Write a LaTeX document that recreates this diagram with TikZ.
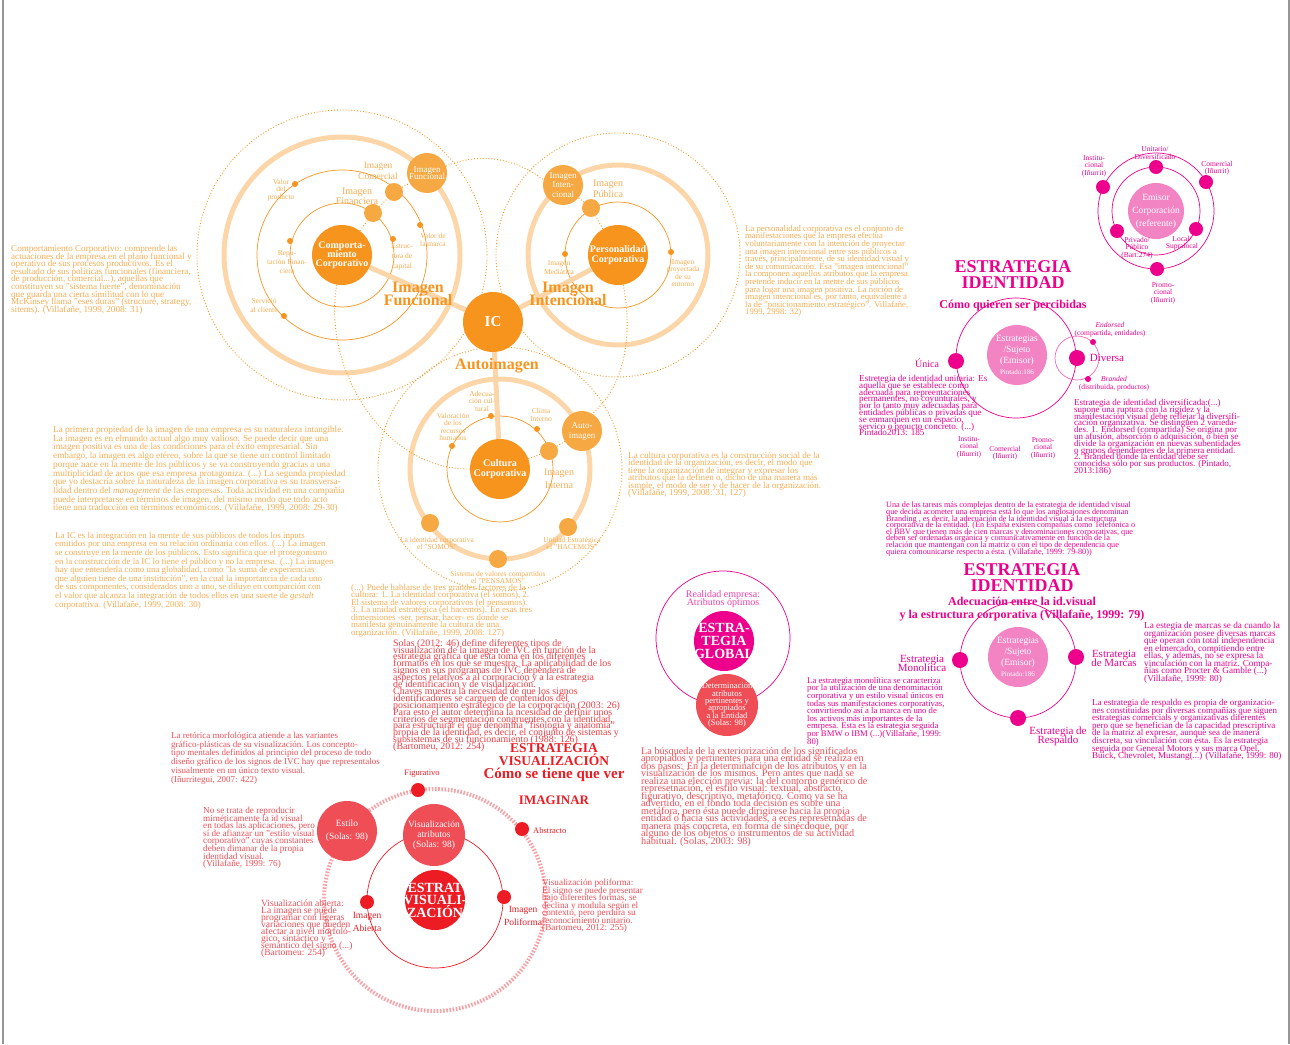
\documentclass[tikz,border=0pt]{standalone}
\usepackage{fontspec}
\setmainfont{Liberation Serif}
\usetikzlibrary{positioning,backgrounds}
\definecolor{icorange}{RGB}{247,148,29}
\definecolor{icpale}{RGB}{252,214,168}
\definecolor{icbubble}{RGB}{246,168,66}
\definecolor{ictext}{RGB}{248,172,82}
\definecolor{idmagenta}{RGB}{236,0,140}
\definecolor{idpink}{RGB}{243,132,196}
\definecolor{vired}{RGB}{237,28,36}
\definecolor{vilight}{RGB}{240,78,86}
\definecolor{vidash}{RGB}{246,162,166}
\definecolor{framegrey}{RGB}{150,150,150}
\newcommand{\setfs}[2]{\fontsize{#1}{#2}\selectfont\lineskiplimit=-20pt\lineskip=0pt}

\begin{document}
\begin{tikzpicture}[x=1pt, y=-1pt,
    core/.style={circle, fill=icorange, minimum size=60pt, inner sep=0},
    bubble/.style={circle, fill=icbubble, inner sep=0},
    smalldot/.style={circle, fill=icorange, minimum size=6pt, inner sep=0},
    intxt/.style={text=white, align=center, inner sep=0},
    thinring/.style={draw=icorange, line width=0.7pt},
    thickring/.style={draw=icpale, line width=5pt},
    dotring/.style={draw=icorange, line width=0.9pt, dotted},
    link/.style={draw=icpale, line width=5pt},
    dotlink/.style={draw=icorange, line width=0.9pt, dotted},
    lbl/.style={text=ictext, align=center, inner sep=0, font=\setfs{7.5}{7.5}},
    ohead/.style={text=icorange, align=center, inner sep=0, font=\bfseries\setfs{16}{13}},
    otxt/.style={anchor=north west, align=left, inner sep=0, text=ictext, font=\setfs{9}{7.6}},
    idring/.style={draw=idmagenta, line width=0.7pt},
    iddot/.style={circle, fill=idmagenta, minimum size=14pt, inner sep=0},
    idbubble/.style={circle, fill=idpink, minimum size=60pt, inner sep=0},
    idlbl/.style={text=idmagenta, align=center, inner sep=0, font=\setfs{7.5}{7.5}},
    idtxt/.style={anchor=north west, align=left, inner sep=0, text=idmagenta, font=\setfs{9}{6.8}},
    idhead/.style={text=idmagenta, align=center, inner sep=0, font=\bfseries\setfs{18}{16}},
    viring/.style={draw=vired, line width=0.7pt},
    vidot/.style={circle, fill=vired, minimum size=14pt, inner sep=0},
    vibubble/.style={circle, fill=vilight, minimum size=60pt, inner sep=0},
    vilbl/.style={text=vired, align=center, inner sep=0, font=\setfs{9.5}{13}},
    vitxt/.style={anchor=north west, align=left, inner sep=0, text=vilight, font=\setfs{9.5}{7.5}},
    vihead/.style={text=vired, align=center, inner sep=0, font=\bfseries\setfs{13.5}{13}}]

\useasboundingbox (0,0) rectangle (1290,1044);
\draw[framegrey, line width=1.5pt] (3,0) -- (3,1044);
\draw[framegrey, line width=1.5pt] (1289,0) -- (1289,1044);

% IC cores
\node[core] (ic) at (493,322) {};
\node[intxt, font=\bfseries\setfs{15}{15}] at (ic) {IC};
\node[core] (comp) at (342,255) {};
\node[intxt, font=\bfseries\setfs{10}{9}] at (comp) {Comporta-\\miento\\Corporativo};
\node[core] (pers) at (618,255) {};
\node[intxt, font=\bfseries\setfs{10}{10}] at (pers) {Personalidad\\Corporativa};
\node[core] (cult) at (500,469) {};
\node[intxt, font=\bfseries\setfs{10}{10}] at (cult) {Cultura\\Corporativa};

% Bubbles on the rings
\node[bubble, minimum size=40pt] (funcb) at (427,173) {};
\node[intxt, font=\setfs{9}{7}] at (funcb) {Imagen\\Funcional};
\node[bubble, minimum size=18pt] (comb) at (394,192) {};
\node[bubble, minimum size=18pt] (finb) at (373,213) {};
\node[bubble, minimum size=40pt] (intb) at (563,185) {};
\node[intxt, font=\setfs{9}{9.5}] at (intb) {Imagen\\Inten-\\cional};
\node[bubble, minimum size=18pt] (pubb) at (591,208) {};
\node[bubble, minimum size=40pt] (autob) at (582,431) {};
\node[intxt, font=\setfs{9}{10}] at (autob) {Auto-\\imagen};
\node[bubble, minimum size=18pt] (intnb) at (549,451) {};
\node[bubble, minimum size=18pt] (somos) at (430,523) {};
\node[bubble, minimum size=18pt] (hacemos) at (568,527) {};
\node[bubble, minimum size=18pt] (pensamos) at (498,559) {};

% Small dots
\node[smalldot] (vp) at (295,184) {};
\node[smalldot] (vm) at (420,225) {};
\node[smalldot] (rf) at (290,241) {};
\node[smalldot] (ec) at (393,239) {};
\node[smalldot] (sc) at (284,316) {};
\node[smalldot] (im) at (565,254) {};
\node[smalldot] (ip) at (671,252) {};
\node[smalldot] (ac) at (491,416) {};
\node[smalldot] (ci) at (537,429) {};
\node[smalldot] (vr) at (452,446) {};

\begin{pgfonlayer}{background}
% Rings
\draw[dotring] (comp) circle[radius=145pt];
\draw[thickring] (comp) circle[radius=118pt];
\draw[thinring] (comp) circle[radius=85pt] (comp) circle[radius=52pt];
\draw[dotring] (pers) circle[radius=122pt];
\draw[thickring] (pers) circle[radius=90pt];
\draw[thinring] (pers) circle[radius=53pt];
\draw[dotring] (cult) circle[radius=122pt];
\draw[thickring] (cult) circle[radius=90pt];
\draw[thinring] (cult) circle[radius=53pt];
% Links
\draw[link] (ic) -- (comp);
\draw[link] (ic) -- (pers);
\draw[link] (ic) -- (cult);
\draw[dotlink] (comp) -- (finb) -- (comb) -- (funcb);
\draw[dotlink] (pers) -- (pubb) -- (intb);
\draw[dotlink] (cult) -- (intnb) -- (autob);
\draw[dotlink] (funcb.20) .. controls (480,152) and (515,158) .. (intb.165);
\draw[dotlink] (comp.260) .. controls (322,370) and (385,470) .. (cult.west);
\draw[dotlink] (pers.280) .. controls (634,340) and (622,390) .. (autob.60);
\end{pgfonlayer}

% Orange labels
\node[lbl] at (281,190) {Valor\\del\\producto};
\node[lbl, font=\setfs{9.5}{11}] at (378,171) {Imagen\\Comercial};
\node[lbl, font=\setfs{10}{10}] at (357,196) {Imagen\\Financiera};
\node[lbl, font=\setfs{7.5}{8}] at (433,240) {Valor de\\la marca};
\node[lbl, font=\setfs{7.5}{9}] at (287,262) {Repu-\\tación Finan-\\ciera};
\node[lbl, font=\setfs{7.5}{10}] at (402,257) {Estruc-\\tura de\\capital};
\node[lbl, font=\setfs{7.5}{9}] at (264,305) {Servició\\al cliente};
\node[ohead] at (418,294) {Imagen\\Funcional};
\node[lbl, font=\setfs{10}{11}] at (608,189) {Imagen\\Pública};
\node[lbl, font=\setfs{7.5}{9}] at (559,268) {Imagen\\Mediática};
\node[lbl] at (683,273) {Imagen\\proyectada\\de su\\entorno};
\node[ohead] at (568,294) {Imagen\\Intencional};
\node[ohead] at (497,366) {Autoimagen};
\node[lbl] at (482,401) {Adecua-\\ción cul-\\tural};
\node[lbl] at (453,427) {Valoración\\de los\\recursos\\humanos};
\node[lbl, font=\setfs{7.5}{8}] at (541,415) {Clima\\Interno};
\node[lbl, font=\setfs{10}{13}] at (559,479) {Imagen\\Interna};
\node[lbl, font=\setfs{7.5}{7}] at (437,543) {La identidad corporativa\\el "SOMOS"};
\node[lbl, font=\setfs{7.5}{7}] at (572,543) {Unidad Estratégica\\el "HACEMOS"};
\node[lbl, font=\setfs{7.5}{7}] at (498,577) {Sistema de valores compartidos\\el "PENSAMOS"};

% Orange texts
\node[otxt, font=\setfs{9.1}{7.6}] at (11,245) {Comportamiento Corporativo: comprende las\\actuaciones de la empresa en el plano funcional y\\operativo de sus procesos productivos. Es el\\resultado de sus políticas funcionales (financiera,\\de producción, comercial...), aquellas que\\constituyen su "sistema fuerte", denominación\\que guarda una cierta similitud con lo que\\McKinsey llama "eses duras" (structure, strategy,\\sitems). (Villafañe, 1999, 2008: 31)};
\node[otxt, font=\setfs{8.7}{7.6}] at (745,225) {La personalidad corporativa es el conjunto de\\manifestaciones que la empresa efectua\\voluntariamente con la intención de proyectar\\una imagen intencional entre sus públicos a\\través, principalmente, de su identidad visual y\\de su comunicación. Esa "imagen intencional"\\la componen aquellos atributos que la empresa\\pretende inducir en la mente de sus públicos\\para logar una imagen positiva. La noción de\\imagen intencional es, por tanto, equivalente a\\la de "posicionamiento estratégico". Villafañe,\\1999, 2998: 32)};
\node[otxt, font=\setfs{9.2}{8.7}] at (53,426) {La primera propiedad de la imagen de una empresa es su naturaleza intangible.\\La imagen es en elmundo actual algo muy valioso. Se puede decir que una\\imagen positiva es una de las condiciones para el éxito empresarial. Sin\\embargo, la imagen es algo etéreo, sobre la que se tiene un control limitado\\porque nace en la mente de los públicos y se va construyendo gracias a una\\multiplicidad de actos que esa empresa protagoniza. (...) La segunda propiedad\\que yo destacría sobre la naturaleza de la imagen corporativa es su transversa-\\lidad dentro del \emph{management} de las empresas. Toda actividad en una compañía\\puede interpretarse en términos de imagen, del mismo modo que todo acto\\tiene una traducción en términos económicos. (Villafañe, 1999, 2008: 29-30)};
\node[otxt, font=\setfs{8.9}{8.6}] at (55,532) {La IC es la integración en la mente de sus públicos de todos los inputs\\emitidos por una empresa en su relación ordinaria con ellos. (...) La imagen\\se construye en la mente de los públicos. Esto significa que el protegonismo\\en la construcción de la IC lo tiene el público y no la empresa. (...) La imagen\\hay que entenderla como una globalidad, como "la suma de experiencias\\que alguien tiene de una institución", en la cual la importancia de cada uno\\de sus componentes, considerados uno a uno, se diluye en comparción con\\el valor que alcanza la integración de todos ellos en una suerte de \emph{gestalt}\\corporattiva. (Villafañe, 1999, 2008: 30)};
\node[otxt, font=\setfs{8.9}{7.5}] at (351,584) {(...) Puede hablarse de tres grandes factores de la\\cultura: 1. La identidad corporativa (el somos), 2.\\El sistema de valores corporativos (el pensamos).\\3. La unidad estratégica (el hacemos). En esas tres\\dimensiones -ser, pensar, hacer- es donde se\\manifesta genuinamente la cultura de una\\organización. (Villafañe, 1999, 2008: 127)};
\node[otxt, font=\setfs{9.1}{7.4}] at (628,452) {La cultura corporativa es la construcción social de la\\identidad de la organización, es decir, el modo que\\tiene la organización de integrar y expresar los\\atributos que la definen o, dicho de una manera más\\ismple, el modo de ser y de hacer de la organización.\\(Villafañe, 1999, 2008: 31, 127)};

% Emisor cluster
\node[idbubble, minimum size=56pt] (emi) at (1156,211) {};
\node[intxt, font=\setfs{9.5}{13}] at (emi) {Emisor\\Corporación\\(referente)};
\node[iddot] (ud) at (1156,167) {};
\node[iddot] (ins) at (1103,187) {};
\node[iddot] (com) at (1206,182) {};
\node[iddot] (pp) at (1117,231) {};
\node[iddot] (ls) at (1196,229) {};
\node[iddot] (pro) at (1157,269) {};
\node[idlbl] at (1155,153) {Unitario/\\Diversificado};
\node[idlbl] at (1094,166) {Institu-\\cional\\(Iñurrit)};
\node[idlbl] at (1217,168) {Comercial\\(Iñurrit)};
\node[idlbl] at (1137,248) {Privado/\\Público\\(Bart:274)};
\node[idlbl] at (1182,243) {Local/\\Supralocal};
\node[idlbl] at (1163,293) {Promo-\\cional\\(Iñurrit)};

% Estrategia identidad: percibidas
\node[idhead] at (1013,275) {ESTRATEGIA\\IDENTIDAD};
\node[idhead, font=\bfseries\setfs{12}{12}] at (1013,306) {Cómo quieren ser percibidas};
\node[idbubble] (suj1) at (1017,355) {};
\node[intxt, font=\setfs{9.5}{11}] at (suj1) {Estrategias\\/Sujeto\\(Emisor)\\{\setfs{7}{9}Pintado:186}};
\node[iddot, minimum size=16pt] (unica) at (956,361) {};
\node[iddot, minimum size=16pt] (diversa) at (1077,358) {};
\node[circle, fill=idmagenta, minimum size=6pt, inner sep=0] (endo) at (1093,342) {};
\node[circle, fill=idmagenta, minimum size=6pt, inner sep=0] (bran) at (1088,379) {};
\node[idlbl, font=\setfs{10}{10}] at (927,363) {Única};
\node[idlbl, font=\setfs{11}{11}] at (1107,358) {Diversa};
\node[idlbl, font=\setfs{7.5}{8}] at (1110,330) {\emph{Endorsed}\\(compartida, entidades)};
\node[idlbl, font=\setfs{7.5}{8}] at (1114,384) {\emph{Branded}\\(distribuida, productos)};
\node[idlbl] at (969,447) {Institu-\\cional\\(Iñurrit)};
\node[idlbl] at (1005,453) {Comercial\\(Iñurrit)};
\node[idlbl] at (1043,448) {Promo-\\cional\\(Iñurrit)};
\node[idtxt, font=\setfs{9.1}{6.8}] at (859,375) {Estretegia de identidad unitaria: Es\\aquella que se establece como\\adecuada para repreentaciones\\permanentes, no coyunturales, y\\por lo tanto muy adecuadas para\\entidades públicas o privadas que\\se enmarquen en un espacio,\\servico o proucto concreto. (...)\\Pintado2013: 185};
\node[idtxt] at (1074,399) {Estrategia de identidad diversificada:(...)\\supone una ruptura con la rigidez y la\\manifestación visual debe reflejar la diversifi-\\cación organizativa. Se distinguen 2 varieda-\\des. 1. Endorsed (compartida) Se origina por\\un afusión, absorción o adquisición, o bien se\\divide la organización en nuevas subentidades\\o grupos dependientes de la primera entidad.\\2. Branded donde la entidad debe ser\\conocidsa sólo por sus productos. (Pintado,\\2013:186)};

% Estrategia identidad: estructura
\node[idtxt, font=\setfs{8.2}{6.6}] at (886,502) {Una de las tareas más complejas dentro de la estrategia de identidad visual\\que decida acometer una empresa está lo que los anglosajones denominan\\Branding , es decir, la adecuación de la identidad visual a la estructura\\corporativa de la entidad. (En España existen compañías como Telefónica o\\el BBV que tienen más de cien marcas y denominaciones corporativas, que\\deben ser ordenadas orgánica y comunicativamente en función de la\\relación que mantengan con la matriz o con el tipo de dependencia que\\quiera comounicarse respecto a ésta. (Villafañe, 1999: 79-80))};
\node[idhead] at (1022,578) {ESTRATEGIA\\IDENTIDAD};
\node[idhead, font=\bfseries\setfs{12}{13.5}] at (1022,609) {Adecuación entre la id.visual\\y la estructura corporativa (Villafañe, 1999: 79)};
\node[idbubble] (suj2) at (1018,657) {};
\node[intxt, font=\setfs{9.5}{11}] at (suj2) {Estrategias\\/Sujeto\\(Emisor)\\{\setfs{7}{9}Pintado:186}};
\node[iddot, minimum size=16pt] (mono) at (960,660) {};
\node[iddot, minimum size=16pt] (marc) at (1076,657) {};
\node[iddot, minimum size=16pt] (resp) at (1018,718) {};
\node[idlbl, font=\setfs{11}{9}] at (922,663) {Estrategia\\Monolítica};
\node[idlbl, font=\setfs{11}{9}] at (1114,658) {Estrategia\\de Marcas};
\node[idlbl, font=\setfs{11}{9}] at (1058,736) {Estrategia de\\Respaldo};
\node[idtxt, font=\setfs{8.7}{7.6}] at (807,677) {La estrategia monolítica se caracteriza\\por la utilización de una denominación\\corporativa y un estilo visual únicos en\\todas sus manifestaciones corporativas,\\convirtiendo así a la marca en uno de\\los activos más importantes de la\\emrpesa. Esta es la estrategia seguida\\por BMW o IBM (...)(Villafañe, 1999:\\80)};
\node[idtxt, font=\setfs{9.2}{7.5}] at (1144,622) {La estegia de marcas se da cuando la\\organización posee diversas marcas\\que operan con total independencia\\en elmercado, compitiendo entre\\ellas, y además, no se expresa la\\vinculación con la matriz. Compa-\\ñías como Procter \& Gamble (...)\\(Villafañe, 1999: 80)};
\node[idtxt, font=\setfs{9}{7.6}] at (1092,699) {La estrategia de respaldo es propia de organizacio-\\nes constituidas por diversas compañías que siguen\\estrategias comercials y organizativas diferentes\\pero que se benefician de la  capacidad prescriptiva\\de la matriz al expresar, aunque sea de manera\\discreta, su vinculación con ésta. Es la estrategia\\seguida por General Motors y sus marca Opel,\\Buick, Chevrolet, Mustang(...) (Villafañe, 1999: 80)};

% Estrategia global
\node[circle, fill=idmagenta, minimum size=60pt, inner sep=0] (glob) at (724,641) {};
\begin{scope}
\clip (glob) circle[radius=30pt];
\node[intxt, font=\bfseries\setfs{14}{12.7}] at (glob) {ESTRA-\\TEGIA\\GLOBAL};
\end{scope}
\node[vibubble, minimum size=62pt] (det) at (727,705) {};
\node[intxt, font=\setfs{8.5}{7.3}] at (det) {Determinación\\atributos\\pertinentes y\\apropiados\\a la Entidad\\(Solas: 98)};
\node[idlbl, text=idmagenta!75, font=\setfs{10}{7.5}] at (723,599) {Realidad empresa:\\Atributos óptimos};

% Estrategia visualizacion
\node[vitxt, text=vired!85, font=\setfs{9.9}{6.9}] at (393,639) {Solas (2012: 46) define diferentes tipos de\\visualización de la imagen de IVC en función de la\\estrategia gráfica que esta toma en los diferentes\\formatos en los que se muestra. La aplicabilidad de los\\signos en sus programas de IVC dependerá de\\aspectos relativos a al corporación y a la estrategia\\de identificación y de visualización.\\Chaves muestra la necesidad de que los signos\\identificadores se carguen de contenidos del\\posicionamiento estratégico de la corporación (2003: 26)\\Para esto el autor determina la ncesidad de definir unos\\criterios de segmentación congruentes con la identidad,\\para estructurar el que denomina "fisología y anatomía"\\propia de la identidad, es decir, el conjunto de sistemas y\\subsistemas de su funcionamiento (1988: 126)\\(Bartomeu, 2012: 254)};
\node[vihead] at (554,755) {ESTRATEGIA\\VISUALIZACIÓN};
\node[vihead, font=\bfseries\setfs{15}{15}] at (554,775) {Cómo se tiene que ver};
\node[vihead, font=\bfseries\setfs{13}{13}] at (554,800) {IMAGINAR};
\node[vitxt, font=\setfs{10.2}{7.5}] at (641,747) {La búsqueda de la exteriorización de los significados\\apropiados y pertinentes para una entidad se realiza en\\dos pasos: En la determinafción de los atributos y en la\\visualización de los mismos. Pero antes que nada se\\realiza una elección previa: la del contorno genérico de\\represetnación, el estilo visual: textual, abstracto,\\figurativo, descriptivo, metafórico. Como ya se ha\\advertido, en el fondo toda decisión es sobre una\\metáfora, pero ésta puede dirigirese hacia la propia\\entidad o hacia sus actividades, a eces represetnadas de\\manera más concreta, en forma de sinécdoque, por\\alguno de los objetos o instrumentos de su actividad\\habitual. (Solas, 2003: 98)};

\node[circle, fill=vired, minimum size=60pt, inner sep=0] (vis) at (435,900) {};
\begin{scope}
\clip (vis) circle[radius=30pt];
\node[intxt, font=\bfseries\setfs{14}{12.5}] at (vis) {ESTRAT\\VISUALI-\\ZACIÓN};
\end{scope}
\node[vibubble] (estilo) at (347,831) {};
\node[intxt, font=\setfs{9.5}{13}] at (estilo) {Estilo\\(Solas: 98)};
\node[vibubble, minimum size=62pt] (visat) at (434,835) {};
\node[intxt, font=\setfs{9.5}{10}] at (visat) {Visualización\\atributos\\(Solas: 98)};
\node[vidot] (fig) at (418,790) {};
\node[vidot] (abs) at (522,829) {};
\node[vidot] (abi) at (367,902) {};
\node[vidot] (poli) at (504,897) {};
\node[vilbl, font=\setfs{8.5}{8.5}] at (422,774) {Figurativo};
\node[vilbl, font=\setfs{8.5}{8.5}, anchor=west] at (533,831) {Abstracto};
\node[vilbl] at (367,922) {Imagen\\Abierta};
\node[vilbl] at (523,916) {Imagen\\Poliforma};
\node[vitxt, font=\setfs{9}{8.7}] at (171,732) {La retórica morfológica atiende a las variantes\\gráfico-plásticas de su visualización. Los concepto-\\tipo mentales definidos al principio del proceso de todo\\diseño gráfico de los signos de IVC hay que representalos\\visualmente en un único texto visual.\\(Iñurritegui, 2007: 422)};
\node[vitxt, font=\setfs{9.2}{7.6}] at (203,807) {No se trata de reproducir\\miméticamente la id visual\\en todas las aplicaciones, pero\\sí de afianzar un "estilo visual\\corporativo" cuyas constantes\\deben dimanar de la propia\\identidad visual.\\(Villafañe, 1999: 76)};
\node[vitxt, font=\setfs{9.5}{6.9}] at (261,900) {Visualización abierta:\\La imagen se puede\\programar con ligeras\\variaciones que pueden\\afectar a nivel morfoló-\\gico, sintáctico y\\semántico del signo (...)\\(Bartomeu: 254)};
\node[vitxt, font=\setfs{9.2}{7.5}] at (542,879) {Visualización poliforma:\\El signo se puede presentar\\bajo diferentes formas, se\\declina y modula según el\\contexto, pero perdura su\\reconocimiento unitario.\\(Bartomeu, 2012: 255)};

\begin{pgfonlayer}{background}
% Magenta and red rings
\draw[idring] (emi) circle[radius=44pt] (emi) circle[radius=58pt];
\draw[idring] (suj1) ++(-1,3) circle[radius=60pt];
\draw[idring, draw=idmagenta!60] (diversa) circle[radius=22pt];
\draw[idring] (suj2) ++(0,3) circle[radius=58pt];
\draw[idring] (glob) ++(-1,-3) circle[radius=67pt];
\draw[vidash, line width=4pt, dash pattern=on 1.6pt off 1.6pt] (vis) circle[radius=111pt];
\draw[viring] (vis) circle[radius=68pt];
\end{pgfonlayer}
\end{tikzpicture}
\end{document}
